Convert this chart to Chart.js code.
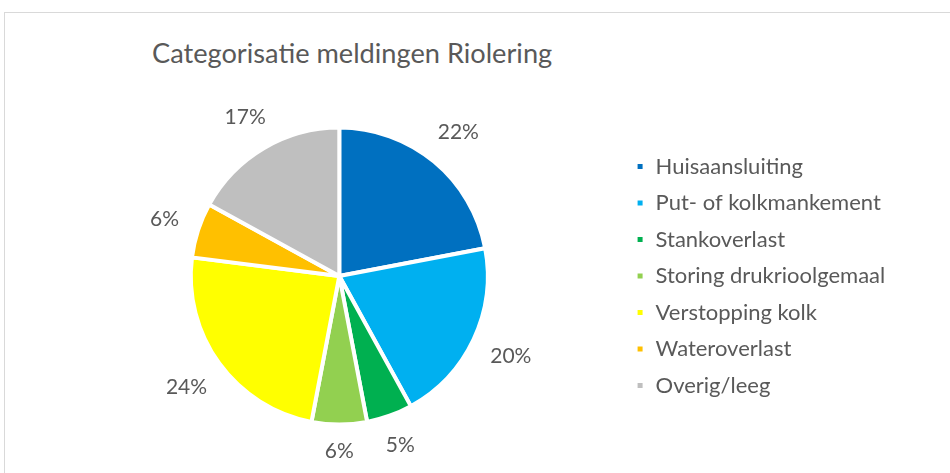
<!DOCTYPE html>
<html lang="nl">
<head>
<meta charset="UTF-8">
<title>Categorisatie meldingen Riolering</title>
<script src="https://cdn.jsdelivr.net/npm/chart.js@4.4.1/dist/chart.umd.min.js"></script>
<style>
  html, body { margin: 0; padding: 0; background: #fff; }
  body { width: 950px; height: 473px; position: relative; overflow: hidden; font-family: Lato, sans-serif; }
  .kader { position: absolute; left: 4px; top: 12px; width: 1000px; height: 500px; border: 1px solid #d9d9d9; }
  .titel { position: absolute; left: 152px; top: 39px; font-size: 27.2px; line-height: 1; color: #595959; white-space: nowrap; }
  .grafiek { position: absolute; left: 0; top: 0; width: 950px; height: 473px; }
</style>
</head>
<body>
<div class="kader"></div>
<div class="titel">Categorisatie meldingen Riolering</div>
<div class="grafiek"><canvas id="taart"></canvas></div>
<script>
const categorieen = ['Huisaansluiting', 'Put- of kolkmankement', 'Stankoverlast', 'Storing drukrioolgemaal', 'Verstopping kolk', 'Wateroverlast', 'Overig/leeg'];
const percentages = [22, 20, 5, 6, 24, 6, 17];
const kleuren = ['#0070C0', '#00B0F0', '#00B050', '#92D050', '#FFFF00', '#FFC000', '#BFBFBF'];

// labels buiten de taart, op de middenhoek van elk segment
const procentLabels = {
  id: 'procentLabels',
  afterDatasetsDraw(chart) {
    const ctx = chart.ctx;
    const meta = chart.getDatasetMeta(0);
    ctx.save();
    ctx.font = '21px Lato';
    ctx.fillStyle = '#595959';
    ctx.textAlign = 'center';
    ctx.textBaseline = 'middle';
    meta.data.forEach((arc, i) => {
      const { x, y, startAngle, endAngle, outerRadius } = arc.getProps(['x', 'y', 'startAngle', 'endAngle', 'outerRadius'], true);
      const mid = (startAngle + endAngle) / 2;
      const tekst = percentages[i] + '%';
      const w = ctx.measureText(tekst).width;
      const ux = Math.cos(mid), uy = Math.sin(mid);
      const afstand = outerRadius + 19 + Math.abs(ux) * w / 2 + Math.abs(uy) * 8;
      ctx.fillText(tekst, x + ux * afstand, y + uy * afstand);
    });
    ctx.restore();
  }
};

new Chart(document.getElementById('taart'), {
  type: 'pie',
  data: {
    labels: categorieen,
    datasets: [{
      data: percentages,
      backgroundColor: kleuren,
      borderColor: '#ffffff',
      borderWidth: 4
    }]
  },
  options: {
    responsive: true,
    maintainAspectRatio: false,
    animation: false,
    layout: { padding: { left: 57.5, right: 54.8, top: 125.5, bottom: 46.5 } },
    plugins: {
      tooltip: { enabled: false },
      legend: {
        position: 'right',
        align: 'center',
        labels: {
          boxWidth: 9,
          boxHeight: 9,
          padding: 14.5,
          color: '#595959',
          font: { family: 'Lato', size: 22 }
        }
      }
    }
  },
  plugins: [procentLabels]
});
</script>
</body>
</html>
